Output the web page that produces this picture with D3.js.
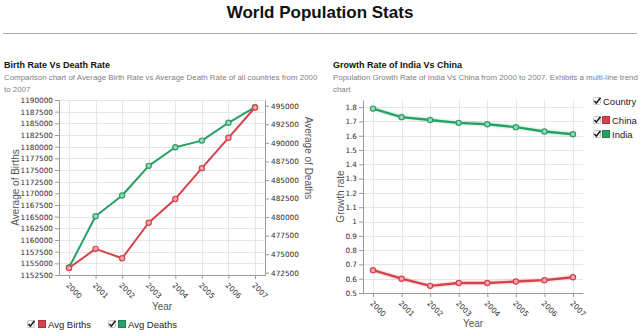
<!DOCTYPE html>
<html>
<head>
<meta charset="utf-8">
<script src="https://cdn.jsdelivr.net/npm/d3@7"></script>
<style>
  html, body { margin: 0; padding: 0; background: #fff; }
  svg { display: block; font-family: "Liberation Sans", Arial, sans-serif; }
  .tick text { font-family: "DejaVu Sans", Verdana, sans-serif; font-size: 7.3px; fill: #2a2a2a; }
  .axis-g path.domain { stroke: #999; }
  .axis-g .tick line { stroke: #999; }
  .grid-g line { stroke: #e6e6e6; stroke-width: 1; }
  .axis-title { font-size: 10px; fill: #555; }
  .heading { font-size: 9px; font-weight: bold; fill: #111; }
  .desc { font-size: 7.9px; fill: #808080; }
  .legend-text { font-size: 9.5px; fill: #222; }
</style>
</head>
<body>
<svg id="page" width="640" height="333"></svg>
<script>
const years = ["2000", "2001", "2002", "2003", "2004", "2005", "2006", "2007"];

const avgBirths = [1154000, 1158100, 1156100, 1163700, 1168800, 1175400, 1181900, 1188400];
const avgDeaths = [473200, 480100, 482900, 486900, 489400, 490300, 492700, 494800];

const chinaGrowth = [0.66, 0.6, 0.55, 0.57, 0.57, 0.58, 0.59, 0.61];
const indiaGrowth = [1.79, 1.73, 1.71, 1.69, 1.68, 1.66, 1.63, 1.61];

const birthTicks = [1152500, 1155000, 1157500, 1160000, 1162500, 1165000, 1167500, 1170000,
  1172500, 1175000, 1177500, 1180000, 1182500, 1185000, 1187500, 1190000];
const deathTicks = [472500, 475000, 477500, 480000, 482500, 485000, 487500, 490000, 492500, 495000];
const growthTicks = [0.5, 0.6, 0.7, 0.8, 0.9, 1, 1.1, 1.2, 1.3, 1.4, 1.5, 1.6, 1.7, 1.8];

const RED = "#d7414c";
const GREEN = "#27a065";

const svg = d3.select("#page");

// page header
svg.append("text").attr("x", 320).attr("y", 18).attr("text-anchor", "middle")
  .attr("font-size", 17).attr("font-weight", "bold").attr("fill", "#111")
  .text("World Population Stats");
svg.append("line").attr("x1", 3).attr("x2", 637).attr("y1", 33.5).attr("y2", 33.5)
  .attr("stroke", "#aaa").attr("stroke-width", 1);

function header(x, title, lines) {
  svg.append("text").attr("class", "heading").attr("x", x).attr("y", 68).text(title);
  lines.forEach((l, i) =>
    svg.append("text").attr("class", "desc").attr("x", x).attr("y", 80 + i * 12).text(l));
}

function checkbox(g, x, y) {
  g.append("rect").attr("x", x + 0.5).attr("y", y + 0.5).attr("width", 7).attr("height", 7)
    .attr("rx", 1).attr("fill", "#f3f3f3").attr("stroke", "#c8c8c8");
  g.append("path").attr("d", `M${x + 1.5},${y + 4} L${x + 3.3},${y + 6.2} L${x + 7.5},${y + 0.8}`)
    .attr("fill", "none").attr("stroke", "#111").attr("stroke-width", 1.4);
}

function swatch(g, x, y, color) {
  g.append("rect").attr("x", x + 0.5).attr("y", y + 0.5).attr("width", 7).attr("height", 7)
    .attr("fill", color).attr("stroke", d3.color(color).darker(0.6));
}

function xAxis(g, x, y) {
  g.attr("class", "axis-g").attr("transform", `translate(0,${y})`)
    .call(d3.axisBottom(x).tickSize(4).tickSizeOuter(0))
    .call((g) => g.selectAll(".tick text")
      .attr("text-anchor", "start").attr("dy", "0.35em").attr("y", 0)
      .attr("transform", "translate(-2,9)rotate(45)"));
}

function grid(g, x, y, ticks, x0, x1, y0, y1) {
  g.attr("class", "grid-g");
  g.selectAll(".h").data(ticks).join("line").attr("class", "h")
    .attr("x1", x0).attr("x2", x1).attr("y1", (d) => Math.round(y(d)) + 0.5).attr("y2", (d) => Math.round(y(d)) + 0.5);
  g.selectAll(".v").data(years).join("line").attr("class", "v")
    .attr("x1", (d) => Math.round(x(d)) + 0.5).attr("x2", (d) => Math.round(x(d)) + 0.5).attr("y1", y0).attr("y2", y1);
}

function series(g, x, y, values, color, width, halo) {
  const line = d3.line().x((d, i) => x(years[i])).y((d) => y(d));
  if (halo) {
    g.append("path").attr("d", line(values)).attr("fill", "none")
      .attr("stroke", color).attr("stroke-opacity", 0.12).attr("stroke-width", width + 3);
  }
  g.append("path").attr("d", line(values)).attr("fill", "none")
    .attr("stroke", color).attr("stroke-width", width).attr("stroke-linejoin", "round");
  g.selectAll(null).data(values).join("circle")
    .attr("cx", (d, i) => x(years[i])).attr("cy", (d) => y(d)).attr("r", 2.6)
    .attr("fill", d3.interpolateRgb(color, "#fff")(0.55)).attr("stroke", color).attr("stroke-width", 1.2);
}

// ---- Birth rate vs death rate (dual axis) ----
header(4, "Birth Rate Vs Death Rate", [
  "Comparison chart of Average Birth Rate vs Average Death Rate of all countries from 2000",
  "to 2007",
]);

{
  const left = 59, right = 265, top = 100, bottom = 275;
  const x = d3.scalePoint().domain(years).range([left, right]).padding(0.376);
  const yB = d3.scaleLinear().domain([1152500, 1190000]).range([bottom, top]);
  const yD = d3.scaleLinear().domain([472190, 495770]).range([bottom, top]);

  grid(svg.append("g"), x, yB, birthTicks, left, right, top, bottom);

  svg.append("g").attr("class", "axis-g").attr("transform", `translate(${left},0)`)
    .call(d3.axisLeft(yB).tickValues(birthTicks).tickSize(4).tickSizeOuter(0).tickPadding(2).tickFormat(d3.format("d")));
  svg.append("g").attr("class", "axis-g").attr("transform", `translate(${right},0)`)
    .call(d3.axisRight(yD).tickValues(deathTicks).tickSize(4).tickSizeOuter(0).tickPadding(2).tickFormat(d3.format("d")));
  xAxis(svg.append("g"), x, bottom);

  // deaths underneath so the births markers sit on top where they meet
  const plot = svg.append("g");
  series(plot, x, yD, avgDeaths, GREEN, 2, false);
  series(plot, x, yB, avgBirths, RED, 2, false);

  svg.append("text").attr("class", "axis-title").attr("text-anchor", "middle")
    .attr("transform", `translate(19,${(top + bottom) / 2})rotate(-90)`).text("Average of Births");
  svg.append("text").attr("class", "axis-title").attr("text-anchor", "middle")
    .attr("transform", `translate(305,158)rotate(90)`).text("Average of Deaths");
  svg.append("text").attr("class", "axis-title").attr("text-anchor", "middle")
    .attr("x", (left + right) / 2).attr("y", 310).text("Year");

  const lg = svg.append("g");
  checkbox(lg, 27, 320);
  swatch(lg, 38, 320, RED);
  lg.append("text").attr("class", "legend-text").attr("x", 48).attr("y", 327.5).text("Avg Births");
  checkbox(lg, 108, 320);
  swatch(lg, 118, 320, GREEN);
  lg.append("text").attr("class", "legend-text").attr("x", 128).attr("y", 327.5).text("Avg Deaths");
}

// ---- Growth rate India vs China ----
header(333, "Growth Rate of India Vs China", [
  "Population Growth Rate of India Vs China from 2000 to 2007. Exhibits a multi-line trend",
  "chart",
]);

{
  const left = 363, right = 583, top = 100, bottom = 293;
  const x = d3.scalePoint().domain(years).range([left, right]).padding(0.35);
  const y = d3.scaleLinear().domain([0.5, 1.85]).range([bottom, top]);

  grid(svg.append("g"), x, y, growthTicks, left, right, top, bottom);

  svg.append("g").attr("class", "axis-g").attr("transform", `translate(${left},0)`)
    .call(d3.axisLeft(y).tickValues(growthTicks).tickSize(4).tickSizeOuter(0).tickPadding(2).tickFormat(d3.format("~g")));
  xAxis(svg.append("g"), x, bottom);

  const plot = svg.append("g");
  series(plot, x, y, chinaGrowth, RED, 2.4, true);
  series(plot, x, y, indiaGrowth, GREEN, 2.4, true);

  svg.append("text").attr("class", "axis-title").attr("text-anchor", "middle")
    .attr("transform", `translate(344,${(top + bottom) / 2})rotate(-90)`).text("Growth rate");
  svg.append("text").attr("class", "axis-title").attr("text-anchor", "middle")
    .attr("x", (left + right) / 2).attr("y", 327).text("Year");

  const lg = svg.append("g");
  checkbox(lg, 593, 97);
  lg.append("text").attr("class", "legend-text").attr("x", 603).attr("y", 104.5)
    .attr("font-size", 10).attr("fill", "#333").text("Country");
  checkbox(lg, 593, 116);
  swatch(lg, 602, 116, RED);
  lg.append("text").attr("class", "legend-text").attr("x", 612).attr("y", 123.5).text("China");
  checkbox(lg, 593, 130);
  swatch(lg, 602, 130, GREEN);
  lg.append("text").attr("class", "legend-text").attr("x", 612).attr("y", 137.5).text("India");
}
</script>
</body>
</html>
